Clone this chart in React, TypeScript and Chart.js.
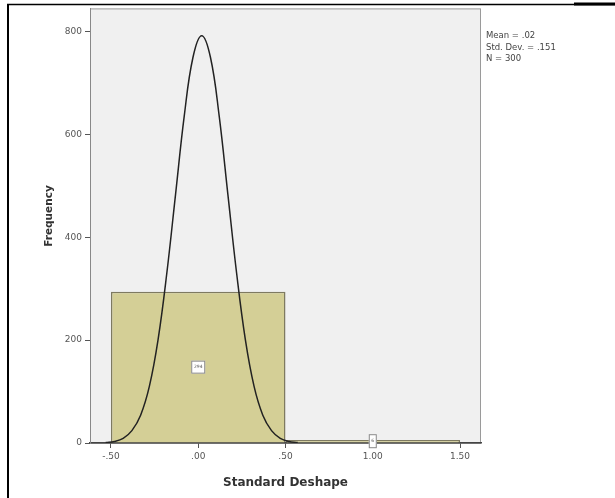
import React, { useEffect, useRef } from "react";
import { Chart, registerables } from "chart.js";

Chart.register(...registerables);

const binCenters = [0, 1];
const binCounts = [294, 6];
const xTickValues = [-0.5, 0, 0.5, 1.0, 1.5];
const xTickLabels = ["-.50", ".00", ".50", "1.00", "1.50"];
const yTickValues = [0, 200, 400, 600, 800];
const yTickLabels = ["0", "200", "400", "600", "800"];
const curveX = [-0.53, -0.48, -0.43, -0.38, -0.33, -0.28, -0.23, -0.18, -0.13, -0.08, -0.03, 0.02, 0.07, 0.12, 0.17, 0.22, 0.27, 0.32, 0.37, 0.42, 0.47, 0.52, 0.57];
const curveY = [1, 3, 9, 24, 54, 110, 201, 330, 483, 636, 750, 792, 750, 636, 483, 330, 201, 110, 54, 24, 9, 3, 1];
const statsLines = ["Mean = .02", "Std. Dev. = .151", "N = 300"];
const xTitle = "Standard Deshape";
const yTitle = "Frequency";

const FONT = "'DejaVu Sans', Verdana, sans-serif";

const decorPlugin = {
  id: "decor",
  beforeDraw(chart: any) {
    const { ctx, chartArea: a, width, height } = chart;
    ctx.save();
    ctx.fillStyle = "#ffffff";
    ctx.fillRect(0, 0, width, height);
    ctx.fillStyle = "#f0f0f0";
    ctx.fillRect(a.left, a.top, a.right - a.left, a.bottom - a.top);
    ctx.strokeStyle = "#9a9a9a";
    ctx.lineWidth = 1;
    ctx.strokeRect(a.left + 0.5, a.top + 0.5, a.right - a.left - 1, a.bottom - a.top);
    ctx.restore();
  },
  afterDatasetsDraw(chart: any) {
    const { ctx } = chart;
    const meta = chart.getDatasetMeta(0);
    ctx.save();
    meta.data.forEach((bar: any, i: number) => {
      const cx = bar.x;
      const cy = (bar.y + bar.base) / 2;
      const w = i === 0 ? 14 : 8;
      const h = i === 0 ? 13 : 14;
      ctx.fillStyle = "#ffffff";
      ctx.fillRect(cx - w / 2, cy - h / 2, w, h);
      ctx.strokeStyle = "#888";
      ctx.lineWidth = 1;
      ctx.strokeRect(cx - w / 2 + 0.5, cy - h / 2 + 0.5, w - 1, h - 1);
      ctx.fillStyle = "#555";
      ctx.font = `4.5px ${FONT}`;
      ctx.textAlign = "center";
      ctx.textBaseline = "middle";
      ctx.fillText(String(binCounts[i]), cx, cy);
    });
    ctx.restore();
  },
  afterDraw(chart: any) {
    const { ctx, chartArea: a } = chart;
    ctx.save();
    ctx.fillStyle = "#444";
    ctx.font = `8.5px ${FONT}`;
    ctx.textAlign = "left";
    ctx.textBaseline = "middle";
    statsLines.forEach((t, i) => ctx.fillText(t, a.right + 5, 36 + i * 11.5));
    // y axis title
    ctx.save();
    ctx.translate(49, 216);
    ctx.rotate(-Math.PI / 2);
    ctx.fillStyle = "#333";
    ctx.font = `bold 10.5px ${FONT}`;
    ctx.textAlign = "center";
    ctx.textBaseline = "middle";
    ctx.fillText(yTitle, 0, 0);
    ctx.restore();
    // outer frame lines
    ctx.strokeStyle = "#000";
    ctx.lineWidth = 2;
    ctx.beginPath();
    ctx.moveTo(8, 4);
    ctx.lineTo(8, 498);
    ctx.stroke();
    ctx.lineWidth = 1.5;
    ctx.beginPath();
    ctx.moveTo(7, 4.5);
    ctx.lineTo(615, 4.5);
    ctx.stroke();
    ctx.lineWidth = 3;
    ctx.beginPath();
    ctx.moveTo(574, 4);
    ctx.lineTo(615, 4);
    ctx.stroke();
    ctx.restore();
  },
};

export default function App() {
  const ref = useRef<HTMLCanvasElement | null>(null);
  useEffect(() => {
    if (!ref.current) return;
    const chart = new Chart(ref.current, {
      type: "bar",
      data: {
        datasets: [
          {
            type: "bar",
            data: binCenters.map((x, i) => ({ x, y: binCounts[i] })),
            backgroundColor: "rgb(212,207,150)",
            borderColor: "#7e7a60",
            borderWidth: 1.5,
            barPercentage: 2,
            categoryPercentage: 1,
            order: 2,
          } as any,
          {
            type: "line",
            data: curveX.map((x, i) => ({ x, y: curveY[i] })),
            borderColor: "#222",
            borderWidth: 1.5,
            pointRadius: 0,
            tension: 0.4,
            fill: false,
            order: 1,
          } as any,
        ],
      },
      options: {
        responsive: false,
        animation: false,
        layout: { padding: { left: 0, right: 134, top: 7, bottom: 0 } },
        plugins: { legend: { display: false }, tooltip: { enabled: false } },
        scales: {
          x: {
            type: "linear",
            offset: false,
            min: -0.62,
            max: 1.62,
            afterBuildTicks: (s: any) => {
              s.ticks = xTickValues.map((v) => ({ value: v }));
            },
            afterFit: (s: any) => {
              s.height = 55;
            },
            ticks: {
              callback: (v: any) => {
                const i = xTickValues.indexOf(Number(v));
                return i >= 0 ? xTickLabels[i] : "";
              },
              font: { family: FONT, size: 9 },
              color: "#555",
              padding: 3,
              maxRotation: 0,
            },
            grid: { offset: false, drawOnChartArea: false, drawTicks: true, tickLength: 5, color: "#555" },
            border: { display: true, color: "#444", width: 1.5 },
            title: {
              display: true,
              text: xTitle,
              font: { family: FONT, size: 12, weight: "bold" },
              color: "#333",
              padding: { top: 0, bottom: 8 },
            },
          },
          y: {
            type: "linear",
            min: 0,
            max: 845,
            afterBuildTicks: (s: any) => {
              s.ticks = yTickValues.map((v) => ({ value: v }));
            },
            afterFit: (s: any) => {
              s.width = 90;
            },
            ticks: {
              callback: (v: any) => {
                const i = yTickValues.indexOf(Number(v));
                return i >= 0 ? yTickLabels[i] : "";
              },
              font: { family: FONT, size: 9 },
              color: "#555",
              padding: 3,
            },
            grid: { drawOnChartArea: false, drawTicks: true, tickLength: 5, color: "#555" },
            border: { display: true, color: "#888", width: 1 },
            title: { display: false },
          },
        },
      },
      plugins: [decorPlugin],
    });
    return () => chart.destroy();
  }, []);
  return (
    <div style={{ position: "fixed", left: 0, top: 0, width: 615, height: 498 }}>
      <canvas ref={ref} width={615} height={498} style={{ display: "block" }} />
    </div>
  );
}
